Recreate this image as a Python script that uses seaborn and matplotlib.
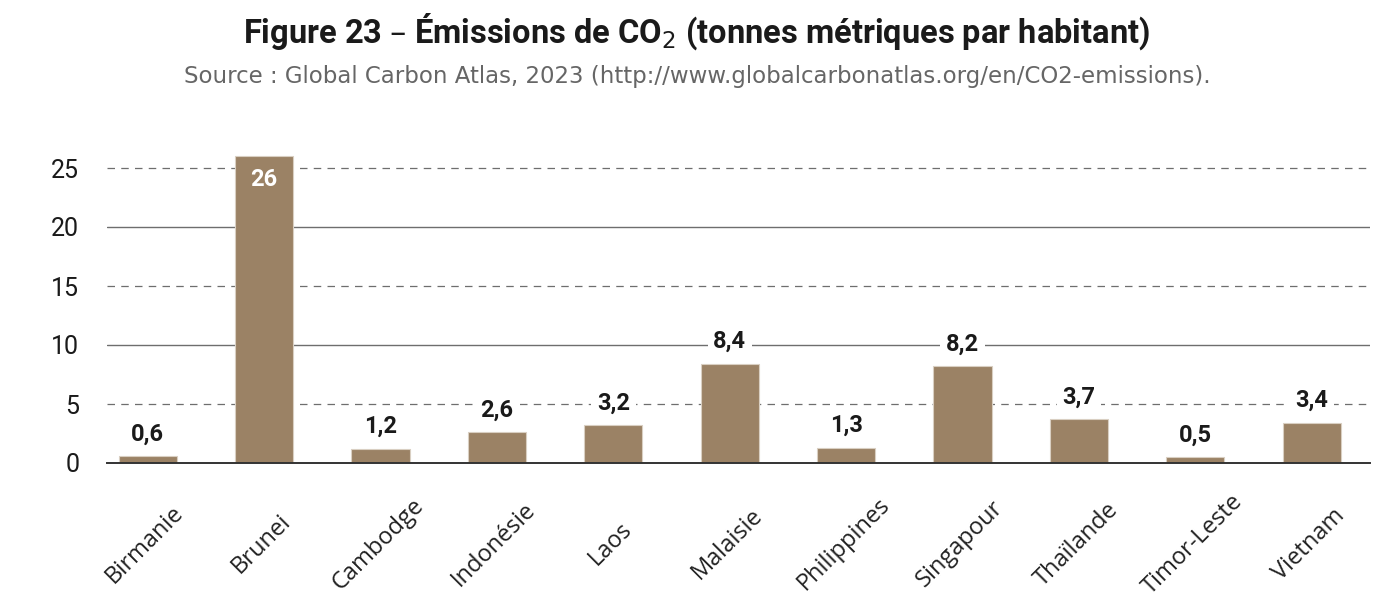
import pandas as pd
import matplotlib.pyplot as plt
import matplotlib.transforms as mtransforms
import seaborn as sns

countries = ["Birmanie", "Brunei", "Cambodge", "Indonésie", "Laos", "Malaisie",
             "Philippines", "Singapour", "Thaïlande", "Timor-Leste", "Vietnam"]
emissions = [0.6, 26, 1.2, 2.6, 3.2, 8.4, 1.3, 8.2, 3.7, 0.5, 3.4]
yticks = [0, 5, 10, 15, 20, 25]

title = "Figure 23 – Émissions de CO$_2$ (tonnes métriques par habitant)"
source = "Source : Global Carbon Atlas, 2023 (http://www.globalcarbonatlas.org/en/CO2-emissions)."

sns.set_theme(style="white")
narrow = ["Roboto", "DejaVu Sans"]
wide = ["Open Sans", "DejaVu Sans"]
plt.rcParams["font.family"] = narrow

df = pd.DataFrame({"pays": countries, "co2": emissions})

fig = plt.figure(figsize=(13.94, 6.11), dpi=100)
ax = fig.add_axes([107 / 1394, 1 - 463 / 611, (1370 - 107) / 1394, (463 - 140) / 611])

sns.barplot(data=df, x="pays", y="co2", color="#9b8265", saturation=1,
            width=0.5, edgecolor="#d9cfc2", linewidth=0.8, ax=ax, zorder=3)

ax.set_xlim(-0.35, 10.5)
ax.set_ylim(0, 25 * (463 - 140) / (463 - 168))

# gridlines: dashed at odd multiples of 5, solid at 10 and 20
for v in yticks[1:]:
    if v % 10 == 0:
        ax.axhline(v, color="#6e6e6e", lw=1.0, zorder=1)
    else:
        ax.axhline(v, color="#6e6e6e", lw=0.9, ls=(0, (6, 5)), zorder=1)

for s in ["top", "right", "left"]:
    ax.spines[s].set_visible(False)
ax.spines["bottom"].set_color("#333333")
ax.spines["bottom"].set_linewidth(1.4)
ax.spines["bottom"].set_zorder(4)

ax.set_yticks(yticks)
ax.set_yticklabels([str(v) for v in yticks], fontsize=18, color="#1a1a1a")
ax.tick_params(axis="y", length=0, pad=20)
ax.tick_params(axis="x", length=0)
ax.set_xlabel("")
ax.set_ylabel("")

# x labels centred under each bar, rotated
offset = mtransforms.ScaledTranslation(-2 / 72, -55 / 72, fig.dpi_scale_trans)
ax.set_xticks(range(len(countries)))
ax.set_xticklabels(countries, rotation=45, ha="center", va="center",
                   rotation_mode="anchor", fontsize=17, color="#222222",
                   family=wide)
for lab in ax.get_xticklabels():
    lab.set_transform(lab.get_transform() + offset)

for i, v in enumerate(emissions):
    txt = f"{v:g}".replace(".", ",")
    if v > 20:
        ax.text(i, v - 1.0, txt, ha="center", va="top", color="white",
                fontsize=17, fontweight="bold", zorder=5)
    else:
        ax.text(i, v + 0.9, txt, ha="center", va="bottom", color="#1a1a1a",
                fontsize=17, fontweight="bold", zorder=5,
                bbox=dict(facecolor="white", edgecolor="none", pad=4))

fig.text(0.5, 1 - 32 / 611, title, ha="center", va="center",
         fontsize=23.5, fontweight="bold", color="#1a1a1a")
fig.text(0.5, 1 - 76 / 611, source, ha="center", va="center",
         fontsize=16.5, color="#666666", family=["DejaVu Sans"])

fig.savefig("out.png", dpi=100)
